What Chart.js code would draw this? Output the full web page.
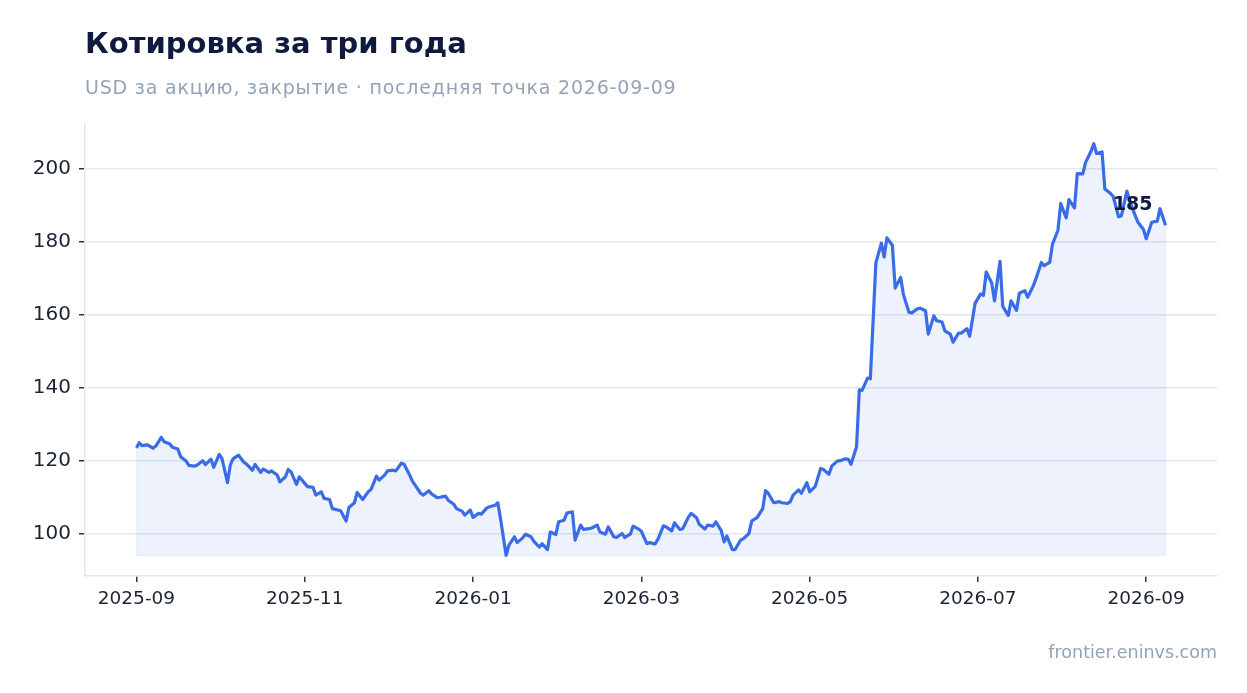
<!DOCTYPE html>
<html lang="ru">
<head>
<meta charset="utf-8">
<title>Котировка за три года</title>
<script src="https://cdn.jsdelivr.net/npm/chart.js@4.4.1/dist/chart.umd.min.js"></script>
<style>
  html, body { margin: 0; padding: 0; background: #ffffff; }
  body { width: 1247px; height: 693px; position: relative; overflow: hidden; font-family: "DejaVu Sans", sans-serif; }
  #chart { position: absolute; left: 0; top: 0; }
  .title { position: absolute; left: 85px; top: 26px; line-height: 34px; font-size: 29px; font-weight: bold; color: #0e1b3e; white-space: nowrap; }
  .subtitle { position: absolute; left: 85px; top: 75px; line-height: 24px; font-size: 19px; letter-spacing: 0.8px; color: #94a3b8; white-space: nowrap; }
  .source { position: absolute; right: 30px; top: 642px; line-height: 20px; font-size: 17.5px; color: #94a3b8; white-space: nowrap; }
</style>
</head>
<body>
<canvas id="chart" width="1247" height="693"></canvas>
<div class="title">Котировка за три года</div>
<div class="subtitle">USD за акцию, закрытие · последняя точка 2026-09-09</div>
<div class="source">frontier.eninvs.com</div>
<script>
// дни от 2025-09-01 и цена закрытия
const days = [
  0, 1, 2, 4, 6, 7, 9, 10, 12, 13, 15, 16, 18, 19, 21, 22, 24, 25, 27, 28,
  30, 31, 33, 34, 35, 37, 39, 40, 42, 43, 45, 46, 48, 49, 51, 52, 54, 55, 56, 58,
  59, 61, 62, 64, 65, 67, 68, 70, 71, 73, 74, 76, 77, 79, 80, 82, 84, 85, 87, 88,
  90, 91, 93, 94, 96, 97, 99, 100, 101, 103, 104, 106, 107, 109, 110, 112, 113, 115, 116, 118,
  119, 121, 122, 124, 125, 127, 128, 130, 131, 132, 134, 135, 137, 138, 140, 141, 143, 144, 146, 147,
  149, 150, 152, 153, 155, 156, 158, 159, 161, 162, 164, 165, 167, 168, 170, 171, 173, 174, 176, 177,
  179, 180, 182, 183, 185, 186, 188, 189, 191, 192, 194, 195, 197, 198, 200, 201, 203, 204, 206, 207,
  209, 210, 212, 213, 214, 216, 217, 219, 220, 222, 223, 225, 227, 228, 229, 231, 233, 234, 236, 237,
  238, 240, 241, 243, 244, 246, 248, 249, 251, 252, 254, 255, 257, 258, 259, 261, 262, 263, 265, 266,
  268, 270, 271, 272, 274, 275, 277, 278, 280, 281, 283, 284, 286, 287, 289, 290, 292, 293, 295, 296,
  298, 299, 301, 302, 304, 306, 307, 308, 310, 311, 313, 314, 316, 317, 319, 320, 322, 323, 325, 326,
  328, 329, 331, 332, 334, 335, 337, 338, 340, 341, 343, 344, 346, 347, 348, 350, 351, 353, 354, 356,
  357, 359, 360, 362, 363, 365, 366, 368, 370, 371, 373
];
const closes = [
  123.6, 125.0, 124.2, 124.4, 123.5, 124.1, 126.5, 125.3, 124.7, 123.8, 123.3, 121.2, 120.0, 118.8, 118.6, 118.9, 120.1, 119.0, 120.5, 118.3,
  121.8, 120.7, 114.1, 118.9, 120.6, 121.6, 119.6, 119.1, 117.5, 119.1, 116.9, 117.8, 116.9, 117.3, 116.2, 114.3, 115.7, 117.7, 117.1, 113.6,
  115.7, 113.9, 113.0, 112.8, 110.7, 111.6, 109.8, 109.5, 107.0, 106.6, 106.4, 103.6, 107.3, 108.6, 111.4, 109.5, 111.6, 112.2, 115.9, 114.8,
  116.2, 117.3, 117.5, 117.3, 119.4, 119.1, 116.2, 114.5, 113.4, 111.2, 110.7, 111.9, 111.0, 110.0, 110.1, 110.4, 109.3, 108.2, 107.0, 106.3,
  105.2, 106.6, 104.6, 105.7, 105.5, 107.2, 107.5, 107.9, 108.6, 104.0, 94.2, 97.0, 99.3, 97.7, 99.0, 100.0, 99.3, 98.1, 96.5, 97.4,
  95.8, 100.6, 99.9, 103.4, 103.8, 105.8, 106.1, 98.4, 102.5, 101.3, 101.5, 101.7, 102.5, 100.6, 100.0, 102.0, 99.3, 99.1, 100.2, 99.1,
  100.0, 102.2, 101.4, 100.8, 97.4, 97.7, 97.3, 98.6, 102.3, 102.0, 100.9, 103.1, 101.3, 101.5, 104.6, 105.7, 104.5, 102.7, 101.4, 102.5,
  102.2, 103.4, 100.9, 97.9, 99.5, 95.8, 95.8, 98.4, 98.8, 100.2, 103.6, 104.6, 107.0, 111.9, 111.2, 108.6, 108.9, 108.6, 108.4, 108.9,
  110.7, 112.1, 111.2, 114.1, 111.6, 113.0, 118.0, 117.7, 116.4, 118.6, 120.0, 120.1, 120.6, 120.5, 119.1, 123.9, 139.5, 139.3, 142.7, 142.5,
  174.2, 179.6, 175.8, 181.0, 179.0, 167.3, 170.2, 165.5, 160.7, 160.5, 161.6, 161.8, 161.1, 154.7, 159.7, 158.4, 158.0, 155.6, 154.7, 152.5,
  155.0, 155.0, 156.2, 154.1, 163.2, 165.7, 165.3, 171.7, 168.7, 163.8, 174.6, 162.3, 159.8, 163.8, 161.2, 165.9, 166.6, 164.8, 167.8, 169.8,
  174.3, 173.4, 174.3, 179.2, 183.1, 190.4, 186.5, 191.5, 189.2, 198.6, 198.5, 201.6, 204.7, 206.8, 204.1, 204.5, 194.4, 193.2, 192.4, 186.8,
  187.1, 193.8, 191.2, 187.1, 185.3, 183.3, 180.8, 185.3, 185.6, 189.0, 184.5
];

// подписи оси X (шаг 61 день) и оси Y
const tickDays = [0, 61, 122, 183, 244, 305, 366];
const tickLabels = ['2025-09', '2025-11', '2026-01', '2026-03', '2026-05', '2026-07', '2026-09'];
const yTicks = [100, 120, 140, 160, 180, 200];

const lineColor = '#3a6ce8';
const minClose = Math.min(...closes);
const maxClose = Math.max(...closes);
const yPad = (maxClose - minClose) * 0.05;
const firstDay = days[0];
const lastDay = days[days.length - 1];
const xPad = (lastDay - firstDay) * 0.05;

// подпись последнего значения и тонкая рамка заливки
const lastLabel = {
  id: 'lastLabel',
  beforeDatasetsDraw(chart) {
    const meta = chart.getDatasetMeta(0).data;
    const y0 = chart.scales.y.getPixelForValue(minClose);
    const a = meta[0], b = meta[meta.length - 1];
    const ctx = chart.ctx;
    ctx.save();
    ctx.strokeStyle = 'rgba(58,108,232,0.08)';
    ctx.lineWidth = 1.5;
    ctx.beginPath();
    ctx.moveTo(a.x, a.y);
    ctx.lineTo(a.x, y0);
    ctx.lineTo(b.x, y0);
    ctx.lineTo(b.x, b.y);
    ctx.stroke();
    ctx.restore();
  },
  afterDatasetsDraw(chart) {
    const meta = chart.getDatasetMeta(0).data;
    const p = meta[meta.length - 1];
    const ctx = chart.ctx;
    ctx.save();
    ctx.font = 'bold 19px "DejaVu Sans"';
    ctx.fillStyle = '#0e1b3e';
    ctx.textAlign = 'right';
    ctx.textBaseline = 'alphabetic';
    ctx.fillText(String(Math.round(closes[closes.length - 1])), p.x - 13, p.y - 15);
    ctx.restore();
  }
};

const ctx = document.getElementById('chart').getContext('2d');

new Chart(ctx, {
  type: 'line',
  data: {
    datasets: [{
      data: days.map((d, i) => ({ x: d, y: closes[i] })),
      borderColor: lineColor,
      borderWidth: 3.2,
      borderJoinStyle: 'round',
      backgroundColor: 'rgba(58,108,232,0.09)',
      pointRadius: 0,
      tension: 0,
      fill: { value: minClose }
    }]
  },
  options: {
    responsive: false,
    animation: false,
    devicePixelRatio: 1,
    layout: { padding: { top: 123, right: 30, bottom: 0, left: 0 } },
    plugins: {
      legend: { display: false },
      tooltip: { enabled: false }
    },
    scales: {
      x: {
        type: 'linear',
        min: firstDay - xPad,
        max: lastDay + xPad,
        afterBuildTicks: (s) => { s.ticks = tickDays.map(v => ({ value: v })); },
        afterFit: (s) => { s.height = 117; },
        ticks: {
          autoSkip: false,
          maxRotation: 0,
          padding: 6,
          color: '#1c2333',
          font: { family: 'DejaVu Sans', size: 18.5 },
          callback: (v) => tickLabels[tickDays.indexOf(v)]
        },
        grid: { drawOnChartArea: false, tickColor: '#2b3445', tickLength: 6, lineWidth: 1.5 },
        border: { color: '#e2e8f0', width: 1.5 }
      },
      y: {
        min: minClose - yPad,
        max: maxClose + yPad,
        afterBuildTicks: (s) => { s.ticks = yTicks.map(v => ({ value: v })); },
        afterFit: (s) => { s.width = 85; },
        ticks: {
          padding: 8,
          color: '#1c2333',
          font: { family: 'DejaVu Sans', size: 20 }
        },
        grid: { color: '#e2e8f0', lineWidth: 1.5, tickColor: '#2b3445', tickLength: 6 },
        border: { color: '#e2e8f0', width: 1.5 }
      }
    }
  },
  plugins: [lastLabel]
});
</script>
</body>
</html>
